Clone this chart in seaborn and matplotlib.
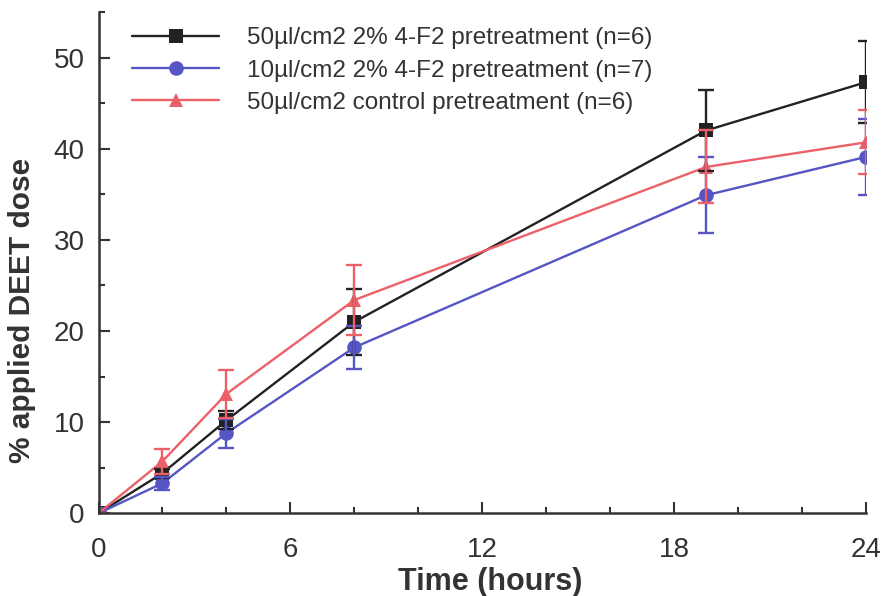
import numpy as np
import pandas as pd
import seaborn as sns
import matplotlib
matplotlib.use('Agg')
import matplotlib.pyplot as plt
from matplotlib.ticker import MultipleLocator

# data
time_h = [0, 2, 4, 8, 19, 24]
names = ['50\u00b5l/cm2 2% 4-F2 pretreatment (n=6)',
         '10\u00b5l/cm2 2% 4-F2 pretreatment (n=7)',
         '50\u00b5l/cm2 control pretreatment (n=6)']
black_mean = [0, 4.4, 10.2, 21.0, 42.0, 47.3]
black_err = [0, 0.5, 1.0, 3.6, 4.4, 4.5]
blue_mean = [0, 3.3, 8.8, 18.2, 34.9, 39.1]
blue_err = [0, 0.7, 1.6, 2.4, 4.2, 4.2]
red_mean = [0, 5.7, 13.1, 23.4, 38.0, 40.7]
red_err = [0, 1.4, 2.6, 3.8, 4.0, 3.5]

colors = ['#222222', '#5555c4', '#ec6068']
marks = ['s', 'o', '^']

sns.set_style('ticks')
plt.rcParams['font.family'] = ['Liberation Sans', 'DejaVu Sans']

rows = []
for nm, m in zip(names, [black_mean, blue_mean, red_mean]):
    for t, v in zip(time_h, m):
        rows.append({'time': t, 'dose': v, 'group': nm})
df = pd.DataFrame(rows)

fig = plt.figure(figsize=(8.84, 5.96), dpi=100)
ax = fig.add_axes([98.5/884, (596-513.3)/596, (866-98.5)/884, (513.3-12)/596])

sns.lineplot(data=df, x='time', y='dose', hue='group', style='group',
             palette=dict(zip(names, colors)), markers=dict(zip(names, marks)),
             dashes=False, markersize=10.5, markeredgewidth=0, linewidth=1.7,
             ax=ax, errorbar=None)

for m, e, c in zip([black_mean, blue_mean, red_mean], [black_err, blue_err, red_err], colors):
    ax.errorbar(time_h, m, yerr=e, fmt='none', ecolor=c, elinewidth=1.7,
                capsize=6, capthick=1.7)

ax.set_xlim(0, 24)
ax.set_ylim(0, 55)
ax.xaxis.set_major_locator(MultipleLocator(6))
ax.xaxis.set_minor_locator(MultipleLocator(2))
ax.yaxis.set_major_locator(MultipleLocator(10))
ax.yaxis.set_minor_locator(MultipleLocator(5))
ax.tick_params(which='major', direction='in', length=8, width=1.5, color='#333333',
               labelsize=20, labelcolor='#333333')
ax.tick_params(which='minor', direction='in', length=4, width=1.5, color='#333333')
ax.tick_params(axis='x', which='major', pad=17)
ax.tick_params(axis='y', which='major', pad=10)
ax.set_yticks([0, 10, 20, 30, 40, 50])
for s in ['top', 'right']:
    ax.spines[s].set_visible(False)
for s in ['left', 'bottom']:
    ax.spines[s].set_linewidth(1.8)
    ax.spines[s].set_color('#333333')

ax.set_xlabel('Time (hours)', fontsize=22, fontweight='bold', color='#333333')
ax.xaxis.set_label_coords(0.51, -0.107)
ax.set_ylabel('% applied DEET dose', fontsize=21.5, fontweight='bold', color='#333333')
ax.yaxis.set_label_coords(-0.081, 0.405)

leg = ax.legend(frameon=False, loc='upper left', bbox_to_anchor=(0.015, 1.013),
                fontsize=17.5, handlelength=3.6, handletextpad=1.15, labelspacing=0.42)
for t in leg.get_texts():
    t.set_color('#333333')

fig.savefig('out.png', dpi=100)
